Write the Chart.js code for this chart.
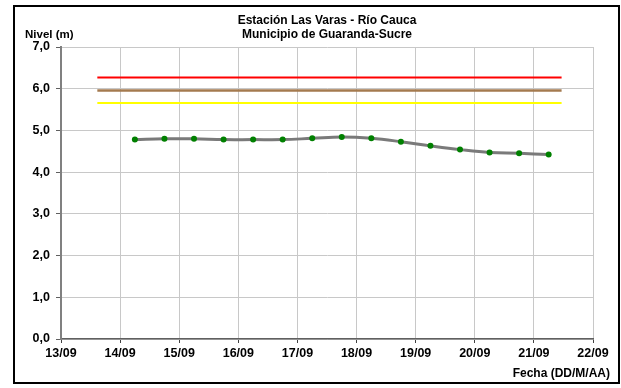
<!DOCTYPE html>
<html>
<head>
<meta charset="utf-8">
<script src="https://cdn.jsdelivr.net/npm/chart.js@4/dist/chart.umd.min.js"></script>
<style>
html,body{margin:0;padding:0;background:#fff;}
#wrap{width:621px;height:388px;position:relative;}
</style>
</head>
<body>
<div id="wrap"><canvas id="c" width="621" height="388"></canvas></div>
<script>
// ---- data ----
const titleLines = ["Estación Las Varas - Río Cauca", "Municipio de Guaranda-Sucre"];
const yAxisLabel = "Nivel (m)";
const xAxisLabel = "Fecha (DD/M/AA)";
const xTickLabels = ["13/09","14/09","15/09","16/09","17/09","18/09","19/09","20/09","21/09","22/09"];
const yTickValues = [0,1,2,3,4,5,6,7];
const obsTimes = ["14/09 06:00","14/09 18:00","15/09 06:00","15/09 18:00","16/09 06:00","16/09 18:00",
                  "17/09 06:00","17/09 18:00","18/09 06:00","18/09 18:00","19/09 06:00","19/09 18:00",
                  "20/09 06:00","20/09 18:00","21/09 06:00"];
const obsLevels = [4.78,4.80,4.80,4.78,4.78,4.78,4.81,4.84,4.81,4.73,4.63,4.54,4.47,4.45,4.42];
const thresholdTimes = ["13/09 14:45","21/09 11:15"];
const levelRed = 6.27;
const levelBrown = 5.96;
const levelYellow = 5.66;

// convert "DD/MM hh:mm" into days after 13/09 00:00
function toDays(s){
  const [d, t] = s.split(" ");
  const day = parseInt(d.split("/")[0], 10);
  const [h, m] = (t || "00:00").split(":").map(Number);
  return (day - 13) + (h + m/60) / 24;
}
const obsPoints = obsTimes.map((t,i)=>({x:toDays(t), y:obsLevels[i]}));
const thr = v => thresholdTimes.map(t=>({x:toDays(t), y:v}));

const FONT = "'Liberation Sans', Arial, sans-serif";

const decor = {
  id:'decor',
  beforeDraw(chart){
    const ctx = chart.ctx;
    ctx.save();
    ctx.fillStyle = '#fff';
    ctx.fillRect(0,0,chart.width,chart.height);
    ctx.restore();
  },
  afterDraw(chart){
    const ctx = chart.ctx;
    const ca = chart.chartArea;
    ctx.save();
    ctx.strokeStyle = '#000';
    ctx.lineWidth = 2;
    ctx.strokeRect(14, 6, 605, 377);
    ctx.fillStyle = '#000';
    ctx.font = "bold 12px " + FONT;
    ctx.textAlign = 'center';
    ctx.textBaseline = 'middle';
    const cx = (ca.left + ca.right)/2;
    ctx.fillText(titleLines[0], cx, 21);
    ctx.fillText(titleLines[1], cx, 35);
    ctx.textAlign = 'left';
    ctx.font = "bold 11.5px " + FONT;
    ctx.fillText(yAxisLabel, 25, 35);
    ctx.textAlign = 'right';
    ctx.font = "bold 12px " + FONT;
    ctx.fillText(xAxisLabel, 610, 374);
    ctx.restore();
  }
};

new Chart(document.getElementById('c'), {
  type: 'scatter',
  data: {
    datasets: [
      {data: thr(levelRed), showLine:true, borderColor:'#ff0000', borderWidth:2, pointRadius:0, order:3},
      {data: thr(levelBrown), showLine:true, borderColor:'#a47a4f', borderWidth:2.5, pointRadius:0, order:2},
      {data: thr(levelYellow), showLine:true, borderColor:'#ffff00', borderWidth:2, pointRadius:0, order:1},
      {data: obsPoints, showLine:true, borderColor:'#7a7a7a', borderWidth:3, tension:0.4,
       pointRadius:3, pointBackgroundColor:'#008000', pointBorderColor:'#008000', pointBorderWidth:0, order:0}
    ]
  },
  options: {
    responsive:false,
    animation:false,
    devicePixelRatio:1,
    layout:{padding:{left:0, right:28, top:47, bottom:0}},
    plugins:{legend:{display:false}, tooltip:{enabled:false}, title:{display:false}},
    scales:{
      x:{
        type:'linear', min:0, max:9,
        afterBuildTicks(scale){ scale.ticks = xTickLabels.map((_,i)=>({value:i})); },
        afterFit(scale){ scale.height = 49; },
        ticks:{
          callback:(v)=>xTickLabels[v],
          color:'#000', font:{family:FONT, size:12.5, weight:'bold'}, padding:3, maxRotation:0, autoSkip:false
        },
        grid:{color:'#c8c8c8', lineWidth:1, tickLength:4, tickColor:'#404040', drawTicks:true},
        border:{color:'#606060', width:1.5}
      },
      y:{
        min:0, max:7,
        afterBuildTicks(scale){ scale.ticks = yTickValues.map(v=>({value:v})); },
        afterFit(scale){ scale.width = 61; },
        ticks:{
          callback:(v)=>v.toFixed(1).replace('.', ','),
          color:'#000', font:{family:FONT, size:12.5, weight:'bold'}, padding:6
        },
        grid:{color:'#c8c8c8', lineWidth:1, tickLength:5, tickColor:'#606060', drawTicks:true},
        border:{color:'#808080', width:2}
      }
    }
  },
  plugins:[decor]
});
</script>
</body>
</html>
